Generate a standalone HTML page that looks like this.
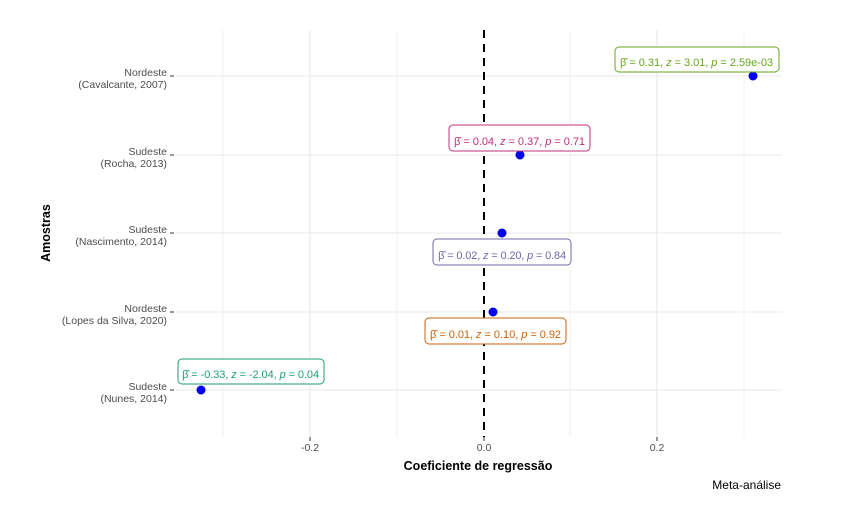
<!DOCTYPE html><html><head><meta charset="utf-8"><style>body{margin:0;background:#fff}svg{display:block;font-family:"Liberation Sans",sans-serif}</style></head><body>
<svg width="866" height="512" xmlns="http://www.w3.org/2000/svg">
<rect width="866" height="512" fill="#fff"/>
<g stroke="#f0f0f0" stroke-width="1">
<line x1="223" y1="30" x2="223" y2="437"/><line x1="397" y1="30" x2="397" y2="437"/><line x1="570" y1="30" x2="570" y2="437"/><line x1="744" y1="30" x2="744" y2="437"/>
</g>
<g stroke="#e8e8e8" stroke-width="1.1">
<line x1="310" y1="30" x2="310" y2="437"/><line x1="657" y1="30" x2="657" y2="437"/>
<line x1="175" y1="76" x2="782" y2="76"/><line x1="175" y1="155" x2="782" y2="155"/><line x1="175" y1="233" x2="782" y2="233"/><line x1="175" y1="312" x2="782" y2="312"/><line x1="175" y1="390" x2="782" y2="390"/>
</g>
<line x1="484" y1="30" x2="484" y2="437" stroke="#000" stroke-width="2" stroke-dasharray="8,6"/>
<g stroke="#333" stroke-width="1"><line x1="170" y1="76" x2="174" y2="76"/><line x1="170" y1="155" x2="174" y2="155"/><line x1="170" y1="233" x2="174" y2="233"/><line x1="170" y1="312" x2="174" y2="312"/><line x1="170" y1="390" x2="174" y2="390"/>
<line x1="310" y1="437" x2="310" y2="441"/><line x1="484" y1="437" x2="484" y2="441"/><line x1="657" y1="437" x2="657" y2="441"/></g>
<g fill="#4d4d4d" font-size="10.5" text-anchor="end">
<text x="167" y="76">Nordeste</text><text x="167" y="88">(Cavalcante, 2007)</text>
<text x="167" y="155">Sudeste</text><text x="167" y="167">(Rocha, 2013)</text>
<text x="167" y="233">Sudeste</text><text x="167" y="245">(Nascimento, 2014)</text>
<text x="167" y="312">Nordeste</text><text x="167" y="324">(Lopes da Silva, 2020)</text>
<text x="167" y="390">Sudeste</text><text x="167" y="402">(Nunes, 2014)</text>
</g>
<g fill="#4d4d4d" font-size="10.5" text-anchor="middle"><text x="310" y="451">-0.2</text><text x="484" y="451">0.0</text><text x="657" y="451">0.2</text></g>
<text x="478" y="470" font-size="12.5" font-weight="bold" text-anchor="middle">Coeficiente de regressão</text>
<text x="50" y="233" font-size="12.5" font-weight="bold" text-anchor="middle" transform="rotate(-90 50 233)">Amostras</text>
<text x="781" y="489" font-size="12" text-anchor="end">Meta-análise</text>
<g fill="#0000ee"><circle cx="753" cy="76" r="4.5"/><circle cx="520" cy="155" r="4.5"/><circle cx="502" cy="233" r="4.5"/><circle cx="493" cy="312" r="4.5"/><circle cx="201" cy="390" r="4.5"/></g>
<g font-size="11" fill="#fff" stroke-width="1">
<rect x="615" y="47" width="164" height="25" rx="4" stroke="#66a61e"/>
<text x="620" y="66" fill="#66a61e" textLength="153" lengthAdjust="spacing">β̂ = 0.31, <tspan font-style="italic">z</tspan> = 3.01, <tspan font-style="italic">p</tspan> = 2.59e-03</text>
<rect x="449" y="125" width="141" height="26" rx="4" stroke="#c0307a"/>
<text x="454" y="145" fill="#c0307a" textLength="131" lengthAdjust="spacing">β̂ = 0.04, <tspan font-style="italic">z</tspan> = 0.37, <tspan font-style="italic">p</tspan> = 0.71</text>
<rect x="433" y="239" width="138" height="26" rx="4" stroke="#6e6aa8"/>
<text x="438" y="259" fill="#6e6aa8" textLength="128" lengthAdjust="spacing">β̂ = 0.02, <tspan font-style="italic">z</tspan> = 0.20, <tspan font-style="italic">p</tspan> = 0.84</text>
<rect x="425" y="318" width="141" height="26" rx="4" stroke="#c8600a"/>
<text x="430" y="338" fill="#c8600a" textLength="131" lengthAdjust="spacing">β̂ = 0.01, <tspan font-style="italic">z</tspan> = 0.10, <tspan font-style="italic">p</tspan> = 0.92</text>
<rect x="178" y="359" width="146" height="25" rx="4" stroke="#1b9e77"/>
<text x="182" y="378" fill="#1b9e77" textLength="137" lengthAdjust="spacing">β̂ = -0.33, <tspan font-style="italic">z</tspan> = -2.04, <tspan font-style="italic">p</tspan> = 0.04</text>
</g>
</svg></body></html>
